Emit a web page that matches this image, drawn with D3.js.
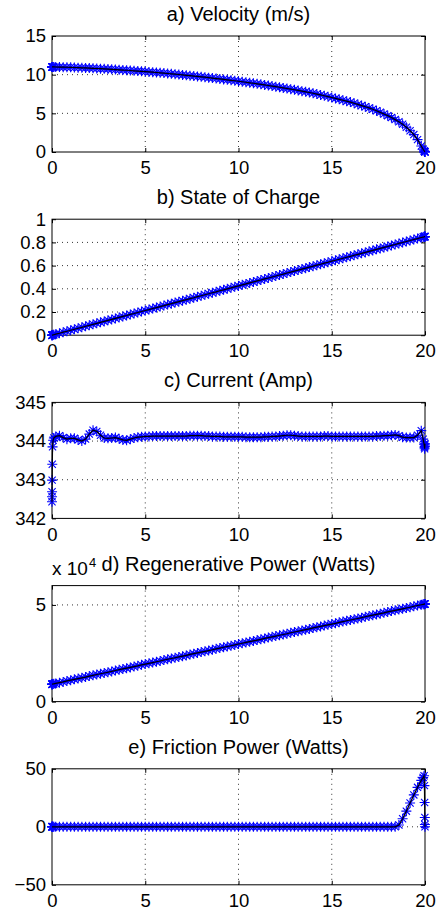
<!DOCTYPE html>
<html>
<head>
<meta charset="utf-8">
<script src="https://cdn.jsdelivr.net/npm/d3@7/dist/d3.min.js"></script>
<style>
body { margin: 0; background: #fff; }
text { font-family: "Liberation Sans", Arial, sans-serif; fill: #000; }
</style>
</head>
<body>
<svg id="fig" width="438" height="911"></svg>
<script>
//## sample times (s): solver steps are denser at the start and the end
var time = [0, 0.002, 0.004, 0.008, 0.015, 0.03, 0.06, 0.1,
    0.2, 0.4, 0.6, 0.8, 1.0, 1.2, 1.4, 1.6, 1.8, 2.0,
    2.2, 2.4, 2.6, 2.8, 3.0, 3.2, 3.4, 3.6, 3.8, 4.0,
    4.2, 4.4, 4.6, 4.8, 5.0, 5.2, 5.4, 5.6, 5.8, 6.0,
    6.2, 6.4, 6.6, 6.8, 7.0, 7.2, 7.4, 7.6, 7.8, 8.0,
    8.2, 8.4, 8.6, 8.8, 9.0, 9.2, 9.4, 9.6, 9.8, 10.0,
    10.2, 10.4, 10.6, 10.8, 11.0, 11.2, 11.4, 11.6, 11.8, 12.0,
    12.2, 12.4, 12.6, 12.8, 13.0, 13.2, 13.4, 13.6, 13.8, 14.0,
    14.2, 14.4, 14.6, 14.8, 15.0, 15.2, 15.4, 15.6, 15.8, 16.0,
    16.2, 16.4, 16.6, 16.8, 17.0, 17.2, 17.4, 17.6, 17.8, 18.0,
    18.2, 18.4, 18.6, 18.8, 19.0, 19.2, 19.4, 19.6, 19.8,
    19.9, 19.95, 19.97, 19.98, 19.99, 19.995, 20];

var velocity = [11.00, 11.00, 11.00, 11.00, 11.00, 11.00, 11.00, 11.00,
    10.99, 10.98, 10.97, 10.96, 10.95, 10.93, 10.91, 10.89, 10.87, 10.85,
    10.82, 10.80, 10.77, 10.75, 10.72, 10.69, 10.66, 10.63, 10.60, 10.57,
    10.54, 10.50, 10.47, 10.43, 10.40, 10.36, 10.32, 10.28, 10.24, 10.20,
    10.15, 10.11, 10.06, 10.02, 9.97, 9.92, 9.87, 9.82, 9.77, 9.72,
    9.67, 9.61, 9.56, 9.50, 9.45, 9.39, 9.33, 9.27, 9.21, 9.15,
    9.08, 9.02, 8.95, 8.89, 8.82, 8.75, 8.67, 8.60, 8.52, 8.45,
    8.37, 8.29, 8.21, 8.13, 8.05, 7.96, 7.87, 7.78, 7.69, 7.60,
    7.49, 7.38, 7.27, 7.16, 7.05, 6.93, 6.81, 6.69, 6.57, 6.45,
    6.30, 6.15, 6.00, 5.85, 5.70, 5.52, 5.33, 5.13, 4.92, 4.70,
    4.45, 4.19, 3.92, 3.60, 3.20, 2.75, 2.25, 1.60, 0.78,
    0.35, 0.17, 0.10, 0.06, 0.03, 0.015, 0];

var stateOfCharge = [0, 0, 0, 0, 0.001, 0.001, 0.003, 0.004,
    0.009, 0.017, 0.026, 0.034, 0.043, 0.051, 0.060, 0.068, 0.077, 0.085,
    0.094, 0.102, 0.111, 0.119, 0.128, 0.136, 0.145, 0.153, 0.162, 0.170,
    0.179, 0.187, 0.196, 0.204, 0.213, 0.221, 0.230, 0.238, 0.247, 0.255,
    0.264, 0.272, 0.281, 0.289, 0.298, 0.306, 0.315, 0.323, 0.332, 0.340,
    0.349, 0.357, 0.366, 0.374, 0.383, 0.391, 0.400, 0.408, 0.417, 0.425,
    0.434, 0.442, 0.451, 0.459, 0.468, 0.476, 0.485, 0.493, 0.502, 0.510,
    0.519, 0.527, 0.536, 0.544, 0.553, 0.561, 0.570, 0.578, 0.587, 0.595,
    0.604, 0.612, 0.621, 0.629, 0.638, 0.646, 0.655, 0.663, 0.672, 0.680,
    0.689, 0.697, 0.706, 0.714, 0.723, 0.731, 0.740, 0.748, 0.757, 0.765,
    0.774, 0.782, 0.791, 0.799, 0.808, 0.816, 0.825, 0.833, 0.842,
    0.846, 0.848, 0.849, 0.849, 0.850, 0.850, 0.850];

var current = [342.43, 342.56, 342.69, 342.99, 343.40, 343.85, 344.02, 344.08,
    344.12, 344.14, 344.09, 344.05, 344.07, 344.07, 344.03, 344.00, 344.05, 344.18,
    344.28, 344.25, 344.15, 344.08, 344.07, 344.08, 344.09, 344.06, 344.03, 344.02,
    344.05, 344.08, 344.10, 344.11, 344.12, 344.12, 344.13, 344.13, 344.13, 344.13,
    344.13, 344.13, 344.13, 344.13, 344.13, 344.13, 344.14, 344.14, 344.14, 344.14,
    344.13, 344.13, 344.12, 344.12, 344.12, 344.11, 344.11, 344.11, 344.11, 344.11,
    344.11, 344.10, 344.10, 344.10, 344.10, 344.10, 344.11, 344.11, 344.12, 344.12,
    344.13, 344.14, 344.15, 344.15, 344.14, 344.13, 344.12, 344.12, 344.12, 344.12,
    344.12, 344.12, 344.13, 344.13, 344.12, 344.12, 344.12, 344.12, 344.12, 344.12,
    344.12, 344.12, 344.12, 344.12, 344.12, 344.12, 344.13, 344.13, 344.14, 344.14,
    344.15, 344.16, 344.14, 344.10, 344.09, 344.09, 344.09, 344.15, 344.27,
    344.05, 343.92, 343.84, 343.80, 343.86, 343.90, 343.93];

// regenerative power in units of 10^4 W
var regenPower = [0.90, 0.90, 0.90, 0.90, 0.90, 0.91, 0.91, 0.92,
    0.94, 0.98, 1.02, 1.07, 1.11, 1.15, 1.19, 1.23, 1.27, 1.32,
    1.36, 1.40, 1.44, 1.48, 1.52, 1.56, 1.61, 1.65, 1.69, 1.73,
    1.77, 1.81, 1.85, 1.90, 1.94, 1.98, 2.02, 2.06, 2.10, 2.15,
    2.19, 2.23, 2.27, 2.31, 2.35, 2.39, 2.44, 2.48, 2.52, 2.56,
    2.60, 2.64, 2.68, 2.73, 2.77, 2.81, 2.85, 2.89, 2.93, 2.98,
    3.02, 3.06, 3.10, 3.14, 3.18, 3.22, 3.27, 3.31, 3.35, 3.39,
    3.43, 3.47, 3.51, 3.56, 3.60, 3.64, 3.68, 3.72, 3.76, 3.81,
    3.85, 3.89, 3.93, 3.97, 4.01, 4.05, 4.10, 4.14, 4.18, 4.22,
    4.26, 4.30, 4.34, 4.39, 4.43, 4.47, 4.51, 4.55, 4.59, 4.64,
    4.68, 4.72, 4.76, 4.80, 4.84, 4.88, 4.93, 4.97, 5.01,
    5.03, 5.04, 5.04, 5.05, 5.05, 5.05, 5.05];

var frictionPower = [0, 0, 0, 0, 0, 0, 0, 0,
    0, 0, 0, 0, 0, 0, 0, 0, 0, 0,
    0, 0, 0, 0, 0, 0, 0, 0, 0, 0,
    0, 0, 0, 0, 0, 0, 0, 0, 0, 0,
    0, 0, 0, 0, 0, 0, 0, 0, 0, 0,
    0, 0, 0, 0, 0, 0, 0, 0, 0, 0,
    0, 0, 0, 0, 0, 0, 0, 0, 0, 0,
    0, 0, 0, 0, 0, 0, 0, 0, 0, 0,
    0, 0, 0, 0, 0, 0, 0, 0, 0, 0,
    0, 0, 0, 0, 0, 0, 0, 0, 0, 0,
    0, 0, 1.5, 7, 13.5, 20.5, 27.5, 34, 40,
    42.5, 44, 35.5, 21, 8, 2, 0];

var titles = ['a) Velocity (m/s)', 'b) State of Charge', 'c) Current (Amp)',
    'd) Regenerative Power (Watts)', 'e) Friction Power (Watts)'];
var xTicks = [0, 5, 10, 15, 20];
var yDomains = [[0, 15], [0, 1], [342, 345], [0, 6], [-50, 50]];
var yTicks = [[0, 5, 10, 15], [0, 0.2, 0.4, 0.6, 0.8, 1], [342, 343, 344, 345], [0, 5], [-50, 0, 50]];
var series = [velocity, stateOfCharge, current, regenPower, frictionPower];

//## layout
var svg = d3.select('#fig');
var xLeft = 52, xRight = 425;
var firstTop = 36, panelStep = 183.2, panelH = 116;
var tickFont = 18.5, titleFont = 20;

var x = d3.scaleLinear().domain([0, 20]).range([xLeft, xRight]);

//## MATLAB '*' marker: a plus and a cross on top of each other
function starPath(r) {
    var d = r * 0.72;
    return 'M' + (-r) + ',0L' + r + ',0M0,' + (-r) + 'L0,' + r +
        'M' + (-d) + ',' + (-d) + 'L' + d + ',' + d +
        'M' + (-d) + ',' + d + 'L' + d + ',' + (-d);
}

function fmtTick(v) {
    return v < 0 ? '\u2212' + Math.abs(v) : String(v);
}

function styleAxis(g) {
    g.select('.domain').remove();
    g.selectAll('.tick line').attr('stroke', '#000');
    g.selectAll('.tick text')
        .attr('font-family', '"Liberation Sans", Arial, sans-serif')
        .attr('font-size', tickFont)
        .attr('fill', '#000');
}

//## draw one subplot
function drawPanel(i) {
    var pTop = firstTop + i * panelStep;
    var pBottom = pTop + panelH;
    var y = d3.scaleLinear().domain(yDomains[i]).range([pBottom, pTop]);
    var g = svg.append('g').attr('class', 'panel');

    // dotted grid at the inner ticks
    g.selectAll('.gridx')
        .data(xTicks.slice(1, -1))
        .enter().append('line')
        .attr('x1', function(d) { return x(d); })
        .attr('x2', function(d) { return x(d); })
        .attr('y1', pTop).attr('y2', pBottom)
        .attr('stroke', '#000').attr('stroke-width', 0.8)
        .attr('stroke-dasharray', '1,4');
    g.selectAll('.gridy')
        .data(yTicks[i].filter(function(d) { return d != yDomains[i][0] && d != yDomains[i][1]; }))
        .enter().append('line')
        .attr('x1', xLeft).attr('x2', xRight)
        .attr('y1', function(d) { return y(d); })
        .attr('y2', function(d) { return y(d); })
        .attr('stroke', '#000').attr('stroke-width', 0.8)
        .attr('stroke-dasharray', '1,4');

    // axes with inward ticks on all four sides
    g.append('g').attr('transform', 'translate(0,' + pBottom + ')')
        .call(d3.axisBottom(x).tickValues(xTicks).tickSizeInner(-4).tickSizeOuter(0).tickPadding(9))
        .call(styleAxis);
    g.append('g').attr('transform', 'translate(0,' + pTop + ')')
        .call(d3.axisTop(x).tickValues(xTicks).tickSizeInner(-4).tickSizeOuter(0).tickFormat(''))
        .call(styleAxis);
    g.append('g').attr('transform', 'translate(' + xLeft + ',0)')
        .call(d3.axisLeft(y).tickValues(yTicks[i]).tickSizeInner(-4).tickSizeOuter(0).tickPadding(6).tickFormat(fmtTick))
        .call(styleAxis);
    g.append('g').attr('transform', 'translate(' + xRight + ',0)')
        .call(d3.axisRight(y).tickValues(yTicks[i]).tickSizeInner(-4).tickSizeOuter(0).tickFormat(''))
        .call(styleAxis);

    g.append('rect')
        .attr('x', xLeft).attr('y', pTop)
        .attr('width', xRight - xLeft).attr('height', panelH)
        .attr('fill', 'none').attr('stroke', '#000').attr('stroke-width', 1);

    var pts = time.map(function(t, j) { return [t, series[i][j]]; });

    // blue star markers
    g.selectAll('.mark')
        .data(pts)
        .enter().append('path')
        .attr('class', 'mark')
        .attr('d', starPath(5))
        .attr('transform', function(d) { return 'translate(' + x(d[0]) + ',' + y(d[1]) + ')'; })
        .attr('fill', 'none')
        .attr('stroke', '#0000ff')
        .attr('stroke-width', 1.1);

    // black line through the samples
    var line = d3.line()
        .x(function(d) { return x(d[0]); })
        .y(function(d) { return y(d[1]); });
    g.append('path')
        .datum(pts)
        .attr('d', line)
        .attr('fill', 'none')
        .attr('stroke', '#000')
        .attr('stroke-width', 1.2);

    // title
    g.append('text')
        .attr('x', (xLeft + xRight) / 2)
        .attr('y', pTop - 15)
        .attr('text-anchor', 'middle')
        .attr('font-size', titleFont)
        .text(titles[i]);

    // exponent label for the power plot
    if (i == 3) {
        var ex = g.append('text')
            .attr('x', xLeft)
            .attr('y', pTop - 11)
            .attr('font-size', 19)
            .text('x 10');
        ex.append('tspan')
            .attr('dx', 1)
            .attr('dy', -8)
            .attr('font-size', 13)
            .text('4');
    }
}

for (var i = 0; i < series.length; i++) {
    drawPanel(i);
}
</script>
</body>
</html>
